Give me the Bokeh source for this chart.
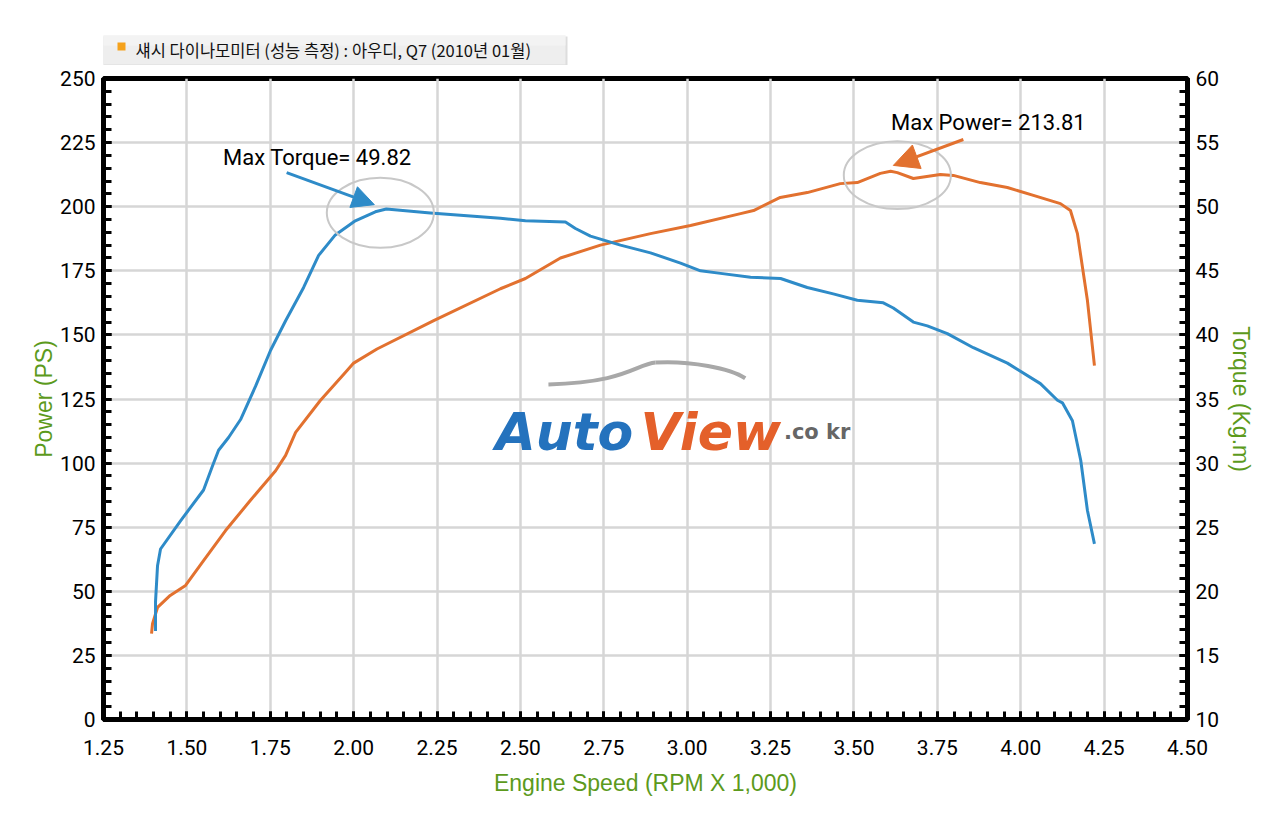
import math
from bokeh.plotting import figure
from bokeh.layouts import column
from bokeh.models import (Range1d, LinearAxis, SingleIntervalTicker, PrintfTickFormatter,
                          Label, Arrow, NormalHead)
from bokeh.core.properties import value
from bokeh.embed import file_html
from bokeh.resources import INLINE

# ---- data ----
torque_rpm = [1.406, 1.406, 1.412, 1.421, 1.481, 1.550, 1.577, 1.595, 1.625, 1.661, 1.706,
              1.751, 1.796, 1.850, 1.895, 1.945, 2.005, 2.065, 2.098, 2.23, 2.44, 2.515,
              2.635, 2.665, 2.710, 2.80, 2.89, 2.98, 3.04, 3.10, 3.19, 3.28, 3.36, 3.438,
              3.510, 3.588, 3.618, 3.678, 3.720, 3.780, 3.858, 3.960, 4.059, 4.110, 4.125,
              4.155, 4.18, 4.20, 4.221]
torque_kgm = [16.9, 19.2, 22.0, 23.3, 25.5, 27.9, 29.8, 31.0, 32.0, 33.4, 36.0,
              38.8, 41.1, 43.7, 46.2, 47.8, 48.9, 49.6, 49.82, 49.5, 49.1, 48.9,
              48.8, 48.3, 47.7, 47.0, 46.4, 45.6, 45.0, 44.8, 44.5, 44.4, 43.7, 43.2,
              42.7, 42.5, 42.1, 41.0, 40.7, 40.1, 39.0, 37.8, 36.2, 34.9, 34.7,
              33.3, 30.2, 26.3, 23.7]

power_rpm = [1.394, 1.397, 1.412, 1.45, 1.496, 1.55, 1.616, 1.69, 1.766, 1.796, 1.826,
             1.90, 1.975, 2.0, 2.07, 2.24, 2.44, 2.515, 2.62, 2.74, 2.89, 3.01, 3.16,
             3.199, 3.279, 3.36, 3.459, 3.51, 3.579, 3.61, 3.63, 3.678, 3.759, 3.798,
             3.879, 3.96, 4.038, 4.119, 4.149, 4.17, 4.2, 4.221]
power_ps = [33.5, 37.4, 43.7, 48.4, 52.3, 62, 73.7, 85.4, 97, 103, 112,
            124.4, 135.3, 139, 144.5, 155.6, 168, 172, 180, 185, 189.5, 192.7, 197.3,
            198.5, 203.6, 205.5, 209, 209.4, 213, 213.81, 213.3, 211, 212.6, 212.2,
            209.4, 207.5, 204.4, 201.2, 198.5, 189.5, 163.4, 138]

max_torque = 49.82
max_torque_rpm = 2.098
max_power = 213.81
max_power_rpm = 3.61

title_text = "섀시 다이나모미터 (성능 측정) : 아우디, Q7 (2010년 01월)"
x_label = "Engine Speed (RPM X 1,000)"
y_label = "Power (PS)"
y2_label = "Torque (Kg.m)"

BLUE = "#2e8bc8"
ORANGE = "#e2712f"
GREEN = "#5c9a1c"
NUM_FONT = "Roboto"
W = 1264
TH = 65  # height of the title strip

# ---- title strip: its frame is aligned with the main frame (103..1187 px) ----
t = figure(width=W, height=TH, output_backend="svg", toolbar_location=None,
           x_range=Range1d(103, 1187), y_range=Range1d(TH, 0), min_border=0)
t.axis.visible = False
t.grid.visible = False
t.outline_line_color = None
t.background_fill_color = "white"
t.border_fill_color = "white"
t.quad(left=[101], right=[567], top=[36], bottom=[65], fill_color="#dddddd", line_color=None)
t.quad(left=[100], right=[565], top=[35], bottom=[64], fill_color="#eeeeee", line_color=None)
t.quad(left=[100], right=[565], top=[35], bottom=[45], fill_color="#f3f3f3", line_color=None)
t.quad(left=[117], right=[125], top=[42], bottom=[50], fill_color="#f5a21c", line_color=None)
t.text(x=[135], y=[49.5], text=[title_text], text_baseline="middle", text_align="left",
       text_font=value("Noto Sans CJK KR"), text_font_size="16.5px", text_font_style="normal",
       text_color="#111111")

# ---- main chart ----
p = figure(width=W, height=800 - TH, output_backend="svg", toolbar_location=None,
           x_range=Range1d(1.25, 4.50), y_range=Range1d(0, 250),
           min_border_left=103, min_border_right=77, min_border_top=78 - TH, min_border_bottom=81)
p.extra_y_ranges = {"tq": Range1d(10, 60)}
p.background_fill_color = "white"
p.border_fill_color = "white"
p.outline_line_color = "black"
p.outline_line_width = 5

p.xaxis.ticker = SingleIntervalTicker(interval=0.25, num_minor_ticks=5)
p.xaxis.formatter = PrintfTickFormatter(format="%.2f")
p.yaxis.ticker = SingleIntervalTicker(interval=25, num_minor_ticks=5)
right = LinearAxis(y_range_name="tq", ticker=SingleIntervalTicker(interval=5, num_minor_ticks=5))
p.add_layout(right, "right")

for ax in [p.xaxis[0], p.yaxis[0], right]:
    ax.axis_line_color = "black"
    ax.axis_line_width = 5
    ax.major_tick_in = 8
    ax.major_tick_out = 0
    ax.minor_tick_in = 8
    ax.minor_tick_out = 0
    ax.major_tick_line_color = "black"
    ax.minor_tick_line_color = "black"
    ax.major_tick_line_width = 3
    ax.minor_tick_line_width = 3
    ax.major_label_text_font = NUM_FONT
    ax.major_label_text_font_size = "21px"
    ax.major_label_text_color = "black"
    ax.axis_label_text_color = GREEN
    ax.axis_label_text_font = "Liberation Sans"
    ax.axis_label_text_font_style = "normal"
    ax.axis_label_text_font_size = "23px"

p.xaxis.axis_label = x_label
p.xaxis.major_label_standoff = 20
p.xaxis.axis_label_standoff = 12
p.yaxis.axis_label = y_label
p.yaxis.major_label_standoff = 8
p.yaxis.axis_label_standoff = 0
right.axis_label = y2_label
right.major_label_standoff = 8
right.axis_label_standoff = 6

p.xgrid.ticker = p.xaxis[0].ticker
p.grid.grid_line_color = "#d6d6d6"
p.grid.grid_line_width = 2.5

# curves
p.line(power_rpm, power_ps, line_color=ORANGE, line_width=3, line_join="round")
p.line(torque_rpm, torque_kgm, line_color=BLUE, line_width=3, line_join="round", y_range_name="tq")

# highlight ellipses around the peaks
p.ellipse(x=[max_torque_rpm - 0.018, max_power_rpm + 0.02],
          y=[(max_torque - 10) * 5 - 1.5, max_power - 1.5],
          width=[0.321, 0.321], height=[27.3, 26.5],
          fill_alpha=0, line_color="#c8c8c8", line_width=2)

# arrows
p.add_layout(Arrow(x_start=1.799, y_start=213.3, x_end=2.062, y_end=200.8,
                   line_color=BLUE, line_width=3,
                   end=NormalHead(size=22, fill_color=BLUE, line_color=BLUE)))
p.add_layout(Arrow(x_start=3.828, y_start=226.2, x_end=3.618, y_end=216.1,
                   line_color=ORANGE, line_width=3,
                   end=NormalHead(size=25, fill_color=ORANGE, line_color=ORANGE)))

p.add_layout(Label(x=1.891, y=219.2, text=f"Max Torque= {max_torque:.2f}", text_align="center",
                   text_baseline="middle", text_font=NUM_FONT, text_font_size="22px", text_color="black"))
p.add_layout(Label(x=3.903, y=232.8, text=f"Max Power= {max_power:.2f}", text_align="center",
                   text_baseline="middle", text_font=NUM_FONT, text_font_size="22px", text_color="black"))

# watermark logo
p.bezier(x0=[2.584, 2.905], y0=[130.7, 139.2], x1=[2.905, 3.174], y1=[139.2, 133.1],
         cx0=[2.815, 3.010], cy0=[131.4, 140.0], cx1=[2.845, 3.130], cy1=[138.4, 136.9],
         line_color="#a8a8a8", line_width=4)
p.add_layout(Label(x=2.425, y=112, text="Auto", text_font="DejaVu Sans", text_font_style="bold italic",
                   text_font_size="52px", text_color="#2472bd", text_baseline="alphabetic"))
p.add_layout(Label(x=2.86, y=112, text="View", text_font="DejaVu Sans", text_font_style="bold italic",
                   text_font_size="52px", text_color="#e4602a", text_baseline="alphabetic"))
p.add_layout(Label(x=3.29, y=112, text=".co kr", text_font="DejaVu Sans", text_font_style="bold",
                   text_font_size="21px", text_color="#666666", text_baseline="alphabetic"))

layout = column(t, p, spacing=0)
open("out.html", "w").write(file_html(layout, INLINE))
